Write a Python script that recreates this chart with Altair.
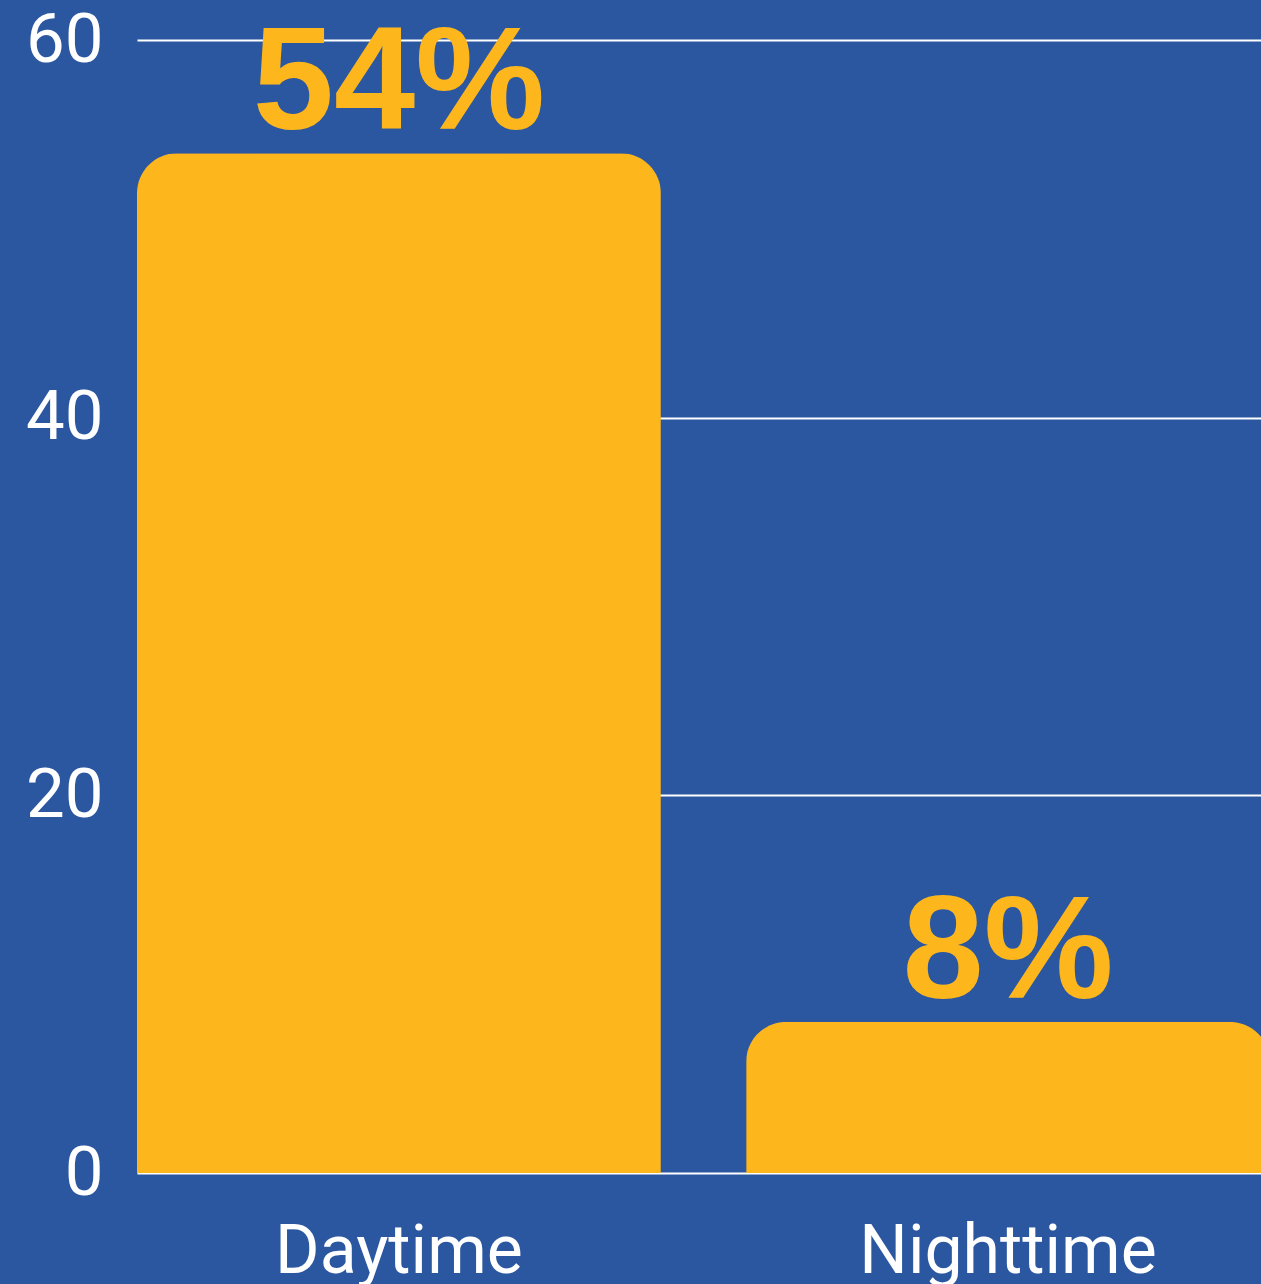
import altair as alt
import pandas as pd

categories = ["Daytime", "Nighttime"]
values = [54, 8]
labels = ["54%", "8%"]

df = pd.DataFrame({"period": categories, "value": values, "label": labels})

BG = "#2B56A0"
BAR = "#FDB71D"

x_enc = alt.X(
    "period:N",
    sort=categories,
    scale=alt.Scale(range=[0, 1133], paddingInner=0.14, paddingOuter=0),
    axis=alt.Axis(
        title=None, labelAngle=0, domain=False, ticks=False,
        labelFont="Roboto", labelFontSize=68, labelColor="white",
        labelPadding=45, labelBaseline="top", grid=False, labelLimit=0,
    ),
)
y_enc = alt.Y(
    "value:Q",
    scale=alt.Scale(domain=[0, 60], nice=False),
    axis=alt.Axis(
        title=None, values=[0, 20, 40, 60], domain=False, ticks=False,
        labelFont="Roboto", labelFontSize=69, labelColor="white",
        labelPadding=34, grid=True, gridColor="white", gridWidth=2,
        gridOpacity=1, labelLimit=0,
    ),
)

bars = alt.Chart(df).mark_bar(
    color=BAR, cornerRadiusTopLeft=40, cornerRadiusTopRight=40
).encode(x=x_enc, y=y_enc)

text = alt.Chart(df).mark_text(
    font="Liberation Sans", fontWeight="bold", fontSize=146, color=BAR,
    baseline="alphabetic", dy=-24,
).encode(x=alt.X("period:N", sort=categories), y="value:Q", text="label:N")

chart = (
    alt.layer(bars, text)
    .properties(
        width=1124, height=1133,
        background=BG,
        padding={"left": 137, "top": 40, "right": 0, "bottom": 111},
        autosize=alt.AutoSizeParams(type="none"),
    )
    .configure_view(stroke=None)
)

chart.save("out.html", embed_options={"renderer": "svg", "actions": False})
